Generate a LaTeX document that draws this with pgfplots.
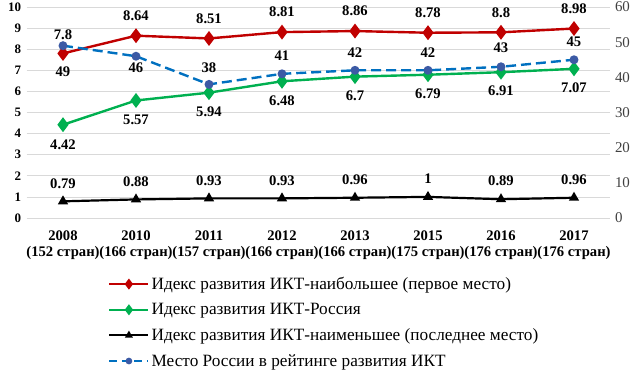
\documentclass[border=0pt]{standalone}
\usepackage{fontspec}
\setmainfont{Liberation Serif}
\usepackage{pgfplots}
\pgfplotsset{compat=1.18}
\usepackage{pgfplotstable}

\definecolor{cred}{RGB}{192,0,0}
\definecolor{cgreen}{RGB}{0,176,80}
\definecolor{cblue}{RGB}{0,112,192}
\definecolor{cblueM}{RGB}{60,90,165}
\definecolor{gridgray}{RGB}{217,217,217}
\definecolor{rtick}{RGB}{64,64,64}

\pgfplotstableread{
x y lab dy
0 7.8 7.8 19
1 8.64 8.64 20
2 8.51 8.51 20
3 8.81 8.81 20
4 8.86 8.86 20
5 8.78 8.78 20
6 8.8 8.8 20
7 8.98 8.98 20
}\maxdata

\pgfplotstableread{
x y lab dy
0 4.42 4.42 -20
1 5.57 5.57 -19
2 5.94 5.94 -19
3 6.48 6.48 -19
4 6.7 6.7 -19
5 6.79 6.79 -19
6 6.91 6.91 -19
7 7.07 7.07 -19
}\rusdata

\pgfplotstableread{
x y lab dy
0 0.79 0.79 18
1 0.88 0.88 18
2 0.93 0.93 18
3 0.93 0.93 18
4 0.96 0.96 18
5 1 1 18
6 0.89 0.89 18
7 0.96 0.96 18
}\mindata

\pgfplotstableread{
x y lab dy
0 49 49 -26
1 46 46 -11
2 38 38 17
3 41 41 18
4 42 42 18
5 42 42 18
6 43 43 19
7 45 45 18
}\rankdata

\pgfplotsset{
  labstyle/.style={
    point meta=explicit symbolic,
    nodes near coords,
    visualization depends on={\thisrow{dy} \as \dyv},
    every node near coord/.style={anchor=center, yshift=\dyv bp, inner sep=0pt,
      font=\fontsize{14.7}{16}\selectfont\bfseries, text=black},
  },
  mylegimg/.style={legend image code/.code={
    \draw[mark repeat=2,mark phase=2,##1,every mark/.append style={scale=0.65}] plot coordinates {(0bp,0bp) (19.5bp,0bp) (39bp,0bp)};}},
}

\begin{document}
\begin{tikzpicture}
\useasboundingbox (-26.5bp,-158bp) rectangle (613.5bp,218bp);
\begin{axis}[
  at={(0,0)}, anchor=south west,
  scale only axis, width=584bp, height=211bp,
  xmin=-0.5, xmax=7.5, ymin=0, ymax=10,
  clip=false,
  xtick={0,...,7},
  xticklabels={{2008\\(152 стран)},{2010\\(166 стран)},{2011\\(157 стран)},{2012\\(166 стран)},{2013\\(166 стран)},{2015\\(175 стран)},{2016\\(176 стран)},{2017\\(176 стран)}},
  x tick label style={font=\fontsize{14.7}{16.5}\selectfont\bfseries, align=center, yshift=-9bp},
  ytick={0,1,...,10},
  yticklabels={0,1,2,3,4,5,6,7,8,9,10},
  y tick label style={font=\fontsize{13}{14}\selectfont\bfseries, xshift=-2bp},
  ymajorgrids, grid style={draw=gridgray, line width=0.8bp},
  axis line style={draw=none}, major tick length=0,
  mylegimg,
  legend style={at={(0.1396,-0.27)}, anchor=north west, draw=none, fill=none,
    font=\fontsize{17.3}{19}\selectfont, row sep=8.4bp, inner sep=0pt,
    /tikz/every even column/.append style={column sep=3bp}},
  legend cell align=left,
]
\addplot[cred, line width=2.4bp, mark=diamond*, mark size=5.5bp, mark options={solid}, labstyle]
  table[x=x, y=y, meta=lab] {\maxdata};
\addlegendentry{Идекс развития ИКТ-наибольшее (первое место)}
\addplot[cgreen, line width=2.4bp, mark=diamond*, mark size=5.5bp, mark options={solid}, labstyle]
  table[x=x, y=y, meta=lab] {\rusdata};
\addlegendentry{Идекс развития ИКТ-Россия}
\addplot[black, line width=2.2bp, mark=triangle*, mark size=3.8bp, mark options={solid}, labstyle]
  table[x=x, y=y, meta=lab] {\mindata};
\addlegendentry{Идекс развития ИКТ-наименьшее (последнее место)}
\addlegendimage{cblue, line width=2.4bp, dash pattern=on 8bp off 4.5bp, mark=*, mark size=3.2bp, mark options={solid, fill=cblueM, draw=cblueM}}
\addlegendentry{Место России в рейтинге развития ИКТ}
\end{axis}
\begin{axis}[
  at={(0,0)}, anchor=south west,
  scale only axis, width=584bp, height=211bp,
  xmin=-0.5, xmax=7.5, ymin=0, ymax=60,
  clip=false,
  xtick=\empty,
  ytick={0,10,...,60},
  yticklabels={0,10,20,30,40,50,60},
  yticklabel pos=right,
  y tick label style={font=\fontsize{15}{16}\selectfont, text=rtick, xshift=1bp},
  axis line style={draw=none}, major tick length=0,
]
\addplot[cblue, line width=2.4bp, dash pattern=on 10bp off 5bp, mark=*, mark size=3.2bp, mark options={solid, fill=cblueM, draw=cblueM}, labstyle]
  table[x=x, y=y, meta=lab] {\rankdata};
\end{axis}
\end{tikzpicture}
\end{document}
